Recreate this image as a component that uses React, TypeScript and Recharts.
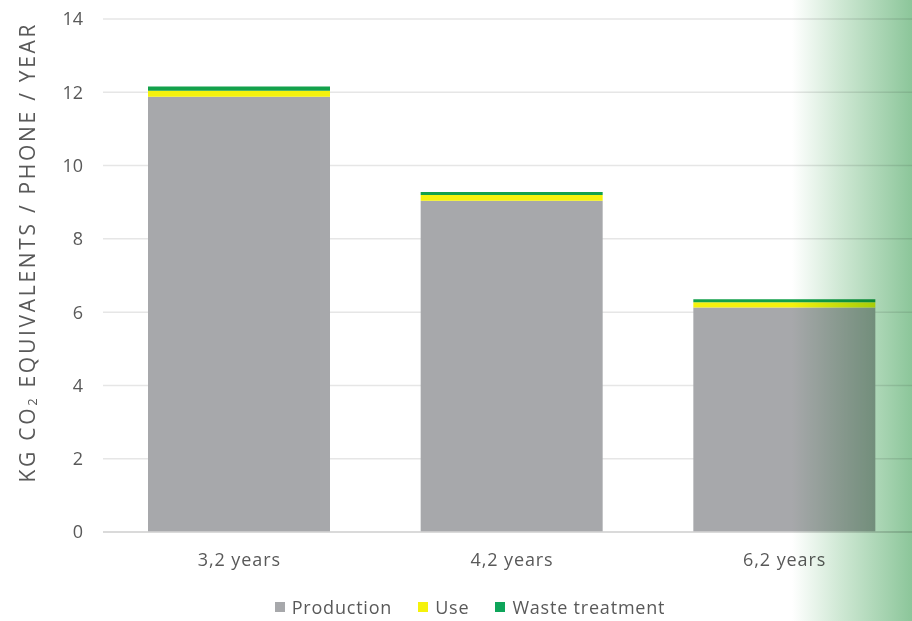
import React from "react";
import { BarChart, Bar, XAxis, YAxis, CartesianGrid } from "recharts";

// Lifetime scenarios of the phone
const categories = ["3,2 years", "4,2 years", "6,2 years"];
// kg CO2-eq per phone per year, by life-cycle stage
const production = [11.88, 9.04, 6.13];
const use = [0.16, 0.16, 0.14];
const waste = [0.12, 0.08, 0.08];
const yTicks = [0, 2, 4, 6, 8, 10, 12, 14];

const data = categories.map((name, i) => ({
  name,
  production: production[i],
  use: use[i],
  waste: waste[i],
}));

const FONT = "'Open Sans', Lato, sans-serif";
const TEXT = "#595959";
const GREY = "#a7a8ab";
const YELLOW = "#f5f20c";
const GREEN = "#13a14b";

const legendItems = [
  { label: "Production", color: GREY },
  { label: "Use", color: YELLOW },
  { label: "Waste treatment", color: "#0ea55a" },
];

const AxisTitle = (props: any) => {
  const vb = props.viewBox || { x: 0, y: 0, width: 0, height: 0 };
  const cx = vb.x + 27;
  const cy = vb.y + vb.height / 2 - 22;
  return (
    <text
      x={cx}
      y={cy}
      transform={`rotate(-90, ${cx}, ${cy})`}
      textAnchor="middle"
      dominantBaseline="central"
      fill={TEXT}
      fontFamily={FONT}
      fontSize={21}
      textLength={458}
      lengthAdjust="spacing"
    >
      <tspan>KG CO</tspan>
      <tspan fontSize={13} dy={5}>2</tspan>
      <tspan dy={-5}> EQUIVALENTS / PHONE / YEAR</tspan>
    </text>
  );
};

export default function App() {
  return (
    <div
      style={{
        position: "fixed",
        left: 0,
        top: 0,
        width: 912,
        height: 621,
        overflow: "hidden",
        background: "#ffffff",
      }}
    >
      <BarChart
        width={930}
        height={621}
        data={data}
        margin={{ top: 19, right: 9, bottom: 0, left: 0 }}
        barSize={182}
      >
        <CartesianGrid vertical={false} stroke="#e6e6e6" strokeWidth={1.5} />
        <XAxis
          dataKey="name"
          height={89}
          axisLine={{ stroke: "#d4d4d4", strokeWidth: 1.5 }}
          tickLine={false}
          tickMargin={15}
          tick={{ fill: TEXT, fontFamily: FONT, fontSize: 18, letterSpacing: 0.9 }}
        />
        <YAxis
          width={103}
          domain={[0, 14]}
          ticks={yTicks}
          axisLine={false}
          tickLine={false}
          tickMargin={14}
          tick={{ fill: TEXT, fontFamily: FONT, fontSize: 18 }}
          label={<AxisTitle />}
        />
        <Bar dataKey="production" stackId="a" fill={GREY} isAnimationActive={false} />
        <Bar dataKey="use" stackId="a" fill={YELLOW} isAnimationActive={false} />
        <Bar dataKey="waste" stackId="a" fill={GREEN} isAnimationActive={false} />
      </BarChart>

      {/* legend row */}
      <div
        style={{
          position: "absolute",
          left: 0,
          top: 595,
          width: 940,
          display: "flex",
          justifyContent: "center",
          gap: 26,
          fontFamily: FONT,
          fontSize: 18,
          letterSpacing: 0.8,
          color: TEXT,
          lineHeight: "24px",
        }}
      >
        {legendItems.map((it) => (
          <div key={it.label} style={{ display: "flex", alignItems: "center", gap: 7 }}>
            <span style={{ width: 10, height: 10, background: it.color, display: "inline-block" }} />
            <span>{it.label}</span>
          </div>
        ))}
      </div>

      {/* green fade along the right edge */}
      <div
        style={{
          position: "absolute",
          left: 792,
          top: 0,
          width: 120,
          height: 621,
          background: "linear-gradient(to right, rgba(255,255,255,1) 0%, #cfe8d4 40%, #8cc69a 100%)",
          mixBlendMode: "multiply",
          pointerEvents: "none",
        }}
      />
    </div>
  );
}
